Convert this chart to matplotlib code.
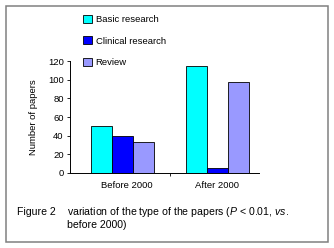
import numpy as np
import matplotlib
matplotlib.use('Agg')
import matplotlib.pyplot as plt
from matplotlib.patches import Rectangle, Patch

plt.rcParams['font.family'] = ['Liberation Sans', 'DejaVu Sans']
plt.rcParams['mathtext.fontset'] = 'custom'
plt.rcParams['mathtext.rm'] = 'Liberation Sans'
plt.rcParams['mathtext.it'] = 'Liberation Sans:italic'

periods = ['Before 2000', 'After 2000']
series = ['Basic research', 'Clinical research', 'Review']
basic = [50, 115]
clinical = [40, 5]
review = [33, 97]
yticks = [0, 20, 40, 60, 80, 100, 120]

colors = ['#00FFFF', '#0000FF', '#9999FF']
W, H = 334, 248
fs = 6.8
cfs = 7.6

fig = plt.figure(figsize=(W / 100, H / 100), dpi=100)
fig.patches.append(Rectangle((6 / W, 6 / H), 322 / W, 236 / H, transform=fig.transFigure,
                             fill=False, edgecolor='#808080', linewidth=1.1))

ax = fig.add_axes([70 / W, 1 - 173 / H, 189 / W, 112 / H])
x = np.arange(len(periods))
w = 0.22
for i, vals in enumerate([basic, clinical, review]):
    ax.bar(x + (i - 1) * w, vals, width=w, color=colors[i], edgecolor='black',
           linewidth=0.6, label=series[i])

ax.set_xlim(-0.553, 1.437)
ax.set_ylim(0, 120)
ax.set_yticks(yticks)
ax.set_xticks(x + np.array([0.04, 0.0]))
ax.set_xticklabels(periods, fontsize=fs)
ax.set_xticks([0.5], minor=True)
ax.tick_params(axis='x', which='major', length=0, pad=6)
ax.tick_params(axis='x', which='minor', length=2, width=0.6, direction='out')
ax.tick_params(axis='y', labelsize=fs, length=2.5, width=0.6, pad=2)
for s in ['top', 'right']:
    ax.spines[s].set_visible(False)
for s in ['left', 'bottom']:
    ax.spines[s].set_linewidth(0.7)
ax.set_ylabel('Number of papers', fontsize=fs, labelpad=7)

handles = [Patch(facecolor=c, edgecolor='black', linewidth=0.6) for c in colors]
fig.legend(handles, series, loc='upper left', bbox_to_anchor=(83 / W, 1 - 15 / H),
           bbox_transform=fig.transFigure, frameon=False, fontsize=fs,
           handlelength=0.9, handleheight=0.9, handletextpad=0.45,
           labelspacing=1.3, borderpad=0, borderaxespad=0)

fig.text(17 / W, 1 - 212 / H, 'Figure 2', fontsize=cfs, va='center')
fig.text(67 / W, 1 - 212 / H, r'variation of the type of the papers ($P$ < 0.01, $vs.$',
         fontsize=cfs, va='center')
fig.text(67 / W, 1 - 225 / H, 'before 2000)', fontsize=cfs, va='center')

fig.savefig('out.png', dpi=100)
